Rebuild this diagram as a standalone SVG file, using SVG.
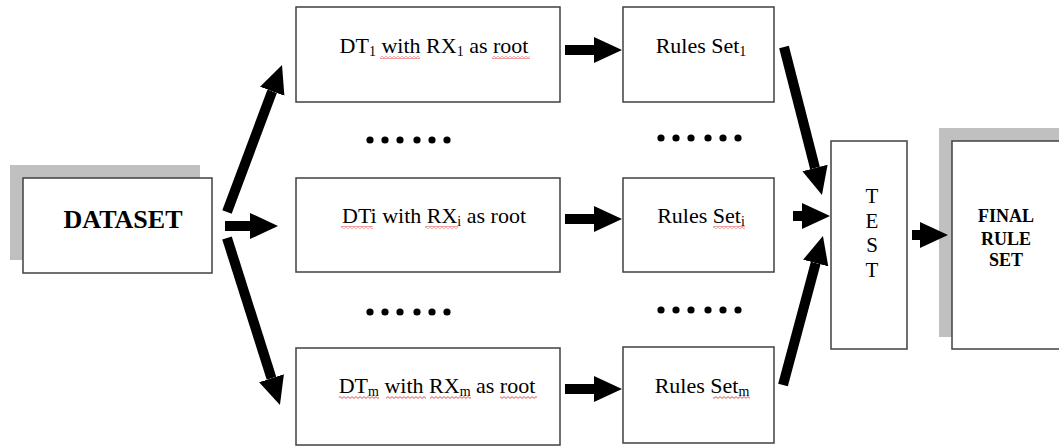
<svg xmlns="http://www.w3.org/2000/svg" width="1059" height="446" viewBox="0 0 1059 446">
<style>
.box{fill:#fff;stroke:#404040;stroke-width:1.5}
.shadow{fill:#c0c0c0}
text{font-family:'Liberation Serif','DejaVu Serif',serif;fill:#000}
.lbl{font-size:22px;text-anchor:middle}
.sub{font-size:14px}
.bold{font-weight:bold}
.arr{stroke:#000;stroke-width:10;fill:none;marker-end:url(#head)}
.dot{fill:#000}
.sq{fill:url(#squig)}
</style>
<defs>
<marker id="head" markerUnits="userSpaceOnUse" markerWidth="30" markerHeight="28" viewBox="0 -14 30 28" refX="0" refY="0" orient="auto">
<path d="M0,-13 L28,0 L0,13 z" fill="#000"/>
</marker>
<pattern id="squig" width="4" height="3" patternUnits="userSpaceOnUse">
<path d="M0,0.6 L2,2.4 L4,0.6" stroke="#e02020" stroke-width="0.8" fill="none"/>
</pattern>
</defs>

<g id="dataset">
<rect class="shadow" x="10" y="165" width="190" height="95"/>
<rect class="box" x="23" y="178" width="189" height="95"/>
<text class="bold" font-family="Liberation Serif, DejaVu Serif, serif" x="123" y="228" font-size="26" text-anchor="middle">DATASET</text>
</g>

<g id="dt1">
<rect class="box" x="296" y="7" width="264" height="95"/>
<text class="lbl" font-family="Liberation Serif, DejaVu Serif, serif" x="434" y="53">DT<tspan class="sub" dy="3">1</tspan><tspan dy="-3"> with RX</tspan><tspan class="sub" dy="3">1</tspan><tspan dy="-3"> as root</tspan></text>
<rect class="sq" x="380" y="56" width="40" height="3"/>
<rect class="sq" x="492" y="56" width="38" height="3"/>
</g>

<g id="dti">
<rect class="box" x="296" y="178" width="264" height="94"/>
<text class="lbl" font-family="Liberation Serif, DejaVu Serif, serif" x="434" y="223">DTi with RX<tspan class="sub" dy="3">i</tspan><tspan dy="-3"> as root</tspan></text>
<rect class="sq" x="341" y="226" width="32" height="3"/>
<rect class="sq" x="425" y="226" width="33" height="3"/>
</g>

<g id="dtm">
<rect class="box" x="296" y="348" width="264" height="97"/>
<text class="lbl" font-family="Liberation Serif, DejaVu Serif, serif" x="437" y="393">DT<tspan class="sub" dy="3">m</tspan><tspan dy="-3"> with RX</tspan><tspan class="sub" dy="3">m</tspan><tspan dy="-3"> as root</tspan></text>
<rect class="sq" x="339" y="396" width="40" height="3"/>
<rect class="sq" x="386" y="396" width="40" height="3"/>
<rect class="sq" x="430" y="396" width="41" height="3"/>
<rect class="sq" x="500" y="396" width="37" height="3"/>
</g>

<g id="rules1">
<rect class="box" x="623" y="7" width="151" height="95"/>
<text class="lbl" font-family="Liberation Serif, DejaVu Serif, serif" x="701" y="53">Rules Set<tspan class="sub" dy="3">1</tspan></text>
</g>

<g id="rulesi">
<rect class="box" x="623" y="178" width="151" height="94"/>
<text class="lbl" font-family="Liberation Serif, DejaVu Serif, serif" x="701" y="223">Rules Set<tspan class="sub" dy="3">i</tspan></text>
<rect class="sq" x="713" y="226" width="32" height="3"/>
</g>

<g id="rulesm">
<rect class="box" x="623" y="347" width="151" height="96"/>
<text class="lbl" font-family="Liberation Serif, DejaVu Serif, serif" x="702" y="393">Rules Set<tspan class="sub" dy="3">m</tspan></text>
<rect class="sq" x="713" y="396" width="37" height="3"/>
</g>

<g id="test">
<rect class="box" x="831" y="141" width="76" height="208"/>
<text font-family="Liberation Serif, DejaVu Serif, serif" font-size="21" text-anchor="middle"><tspan x="872" y="203">T</tspan><tspan x="872" y="228">E</tspan><tspan x="872" y="252">S</tspan><tspan x="872" y="277">T</tspan></text>
</g>

<g id="final">
<rect class="shadow" x="939" y="128" width="130" height="209"/>
<rect class="box" x="952" y="141" width="112" height="208"/>
<text class="bold" font-family="Liberation Serif, DejaVu Serif, serif" font-size="18" text-anchor="middle"><tspan x="1006" y="222">FINAL</tspan><tspan x="1006" y="245">RULE</tspan><tspan x="1006" y="266">SET</tspan></text>
</g>

<g id="ellipses">
<circle class="dot" cx="370" cy="140" r="3.6"/><circle class="dot" cx="385" cy="140" r="3.6"/><circle class="dot" cx="400" cy="140" r="3.6"/><circle class="dot" cx="417" cy="140" r="3.6"/><circle class="dot" cx="432" cy="140" r="3.6"/><circle class="dot" cx="447" cy="140" r="3.6"/>
<circle class="dot" cx="661" cy="138" r="3.6"/><circle class="dot" cx="676" cy="138" r="3.6"/><circle class="dot" cx="691" cy="138" r="3.6"/><circle class="dot" cx="708" cy="138" r="3.6"/><circle class="dot" cx="723" cy="138" r="3.6"/><circle class="dot" cx="738" cy="138" r="3.6"/>
<circle class="dot" cx="370" cy="312" r="3.6"/><circle class="dot" cx="385" cy="312" r="3.6"/><circle class="dot" cx="400" cy="312" r="3.6"/><circle class="dot" cx="417" cy="312" r="3.6"/><circle class="dot" cx="432" cy="312" r="3.6"/><circle class="dot" cx="447" cy="312" r="3.6"/>
<circle class="dot" cx="661" cy="310" r="3.6"/><circle class="dot" cx="676" cy="310" r="3.6"/><circle class="dot" cx="691" cy="310" r="3.6"/><circle class="dot" cx="708" cy="310" r="3.6"/><circle class="dot" cx="723" cy="310" r="3.6"/><circle class="dot" cx="738" cy="310" r="3.6"/>
</g>

<g id="connectors">
<line class="arr" x1="227" y1="212" x2="272.2" y2="91.2"/>
<line class="arr" x1="225" y1="226" x2="250" y2="226"/>
<line class="arr" x1="227" y1="238" x2="271.5" y2="378.3"/>
<line class="arr" x1="565" y1="50" x2="594" y2="50"/>
<line class="arr" x1="565" y1="219" x2="594" y2="219"/>
<line class="arr" x1="565" y1="389" x2="594" y2="389"/>
<line class="arr" x1="784" y1="47" x2="815" y2="167.9"/>
<line class="arr" x1="793" y1="216" x2="802" y2="216"/>
<line class="arr" x1="783" y1="385" x2="815.7" y2="263"/>
<line class="arr" x1="912" y1="235" x2="920" y2="235"/>
</g>
</svg>
